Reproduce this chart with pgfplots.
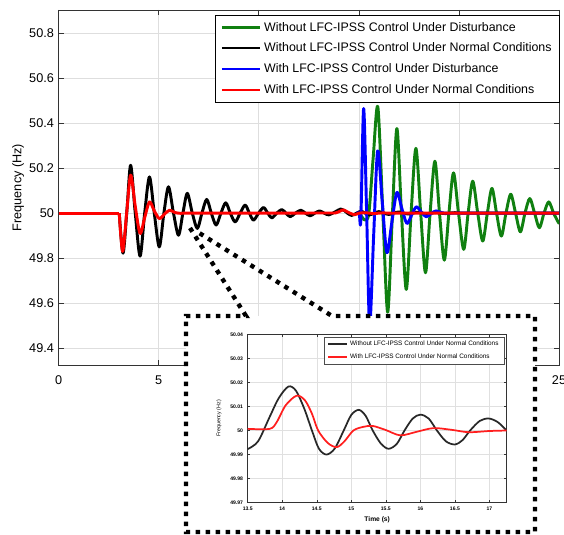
\documentclass[border=0pt]{standalone}
\usepackage{pgfplots}
\pgfplotsset{compat=1.18}
\usepackage{fontspec}
\setmainfont{Liberation Sans}
\definecolor{mgreen}{RGB}{16,128,16}
\definecolor{mblue}{RGB}{0,0,255}
\definecolor{mred}{RGB}{255,0,0}
\definecolor{igray}{RGB}{40,40,40}
\definecolor{ired}{RGB}{255,30,30}
\begin{document}
\begin{tikzpicture}
% ---------------- main axis ----------------
\begin{axis}[
  at={(43.95pt,127.5pt)}, anchor=south west,
  scale only axis, width=375.3pt, height=266.25pt,
  xmin=0, xmax=25, ymin=49.325, ymax=50.903,
  xtick={0,5,10,15,20,25},
  ytick={49.4,49.6,49.8,50,50.2,50.4,50.6,50.8},
  grid=major, major grid style={black!13, line width=0.5pt},
  tick style={black!80, line width=0.5pt}, major tick length=3.75pt,
  axis line style={black!80, line width=0.6pt},
  /pgf/number format/assume math mode=true,
  tick label style={font=\fontsize{9.5}{11}\selectfont},
  xticklabel style={yshift=-4.5pt},
  yticklabel style={/pgf/number format/.cd, fixed, precision=1},
  ylabel={Frequency (Hz)},
  ylabel style={at={(axis description cs:-0.081,0.5)}, anchor=center, font=\fontsize{9.5}{11}\selectfont},
  legend style={at={(1.002,0.986)}, anchor=north east, font=\fontsize{9.3}{11}\selectfont,
    draw=black, line width=0.6pt, row sep=3.4pt, inner xsep=4pt, inner ysep=3pt},
  legend cell align=left,
  legend image code/.code={\draw[#1, line width=1.6pt] (0pt,0pt) -- (29pt,0pt);},
  every axis plot/.append style={line width=2.2pt, line join=round},
]
\addplot[mgreen, smooth] coordinates {
(14.9,50.0) (15.1,49.99) (15.3,49.97) (15.5,50.0) (15.72,50.25) (15.95,50.472)
(16.2,50.0) (16.44,49.56) (16.67,49.98) (16.9,50.376) (17.13,50.0) (17.37,49.661)
(17.61,50.0) (17.85,50.288) (18.09,50.0) (18.33,49.735) (18.56,50.0) (18.8,50.231)
(19.03,50.0) (19.27,49.791) (19.5,50.0) (19.73,50.179) (19.98,50.0) (20.24,49.839)
(20.46,50.0) (20.69,50.142) (20.94,50.0) (21.19,49.876) (21.42,50.0) (21.65,50.11)
(21.88,50.0) (22.12,49.898) (22.35,50.0) (22.59,50.084) (22.83,50.0) (23.07,49.917)
(23.3,50.0) (23.54,50.065) (23.78,50.0) (24.02,49.935) (24.25,50.0) (24.49,50.05)
(24.73,50.0) (24.98,49.957) (25,49.958)
};
\addlegendentry{Without LFC-IPSS Control Under Disturbance}
\addplot[black, forget plot] coordinates {(0,50) (3.03,50)};
\addplot[black, smooth] coordinates {
(3.03,50) (3.22,49.822) (3.42,50.02) (3.6,50.213)
(3.83,50.0) (4.07,49.809)
(4.3,50.0) (4.54,50.161) (4.78,50.0) (5.03,49.85) (5.26,50.0) (5.49,50.117) (5.74,50.0)
(5.99,49.902) (6.21,50.0) (6.43,50.088) (6.68,50.0) (6.93,49.932) (7.16,50.0) (7.4,50.061)
(7.63,50.0) (7.87,49.947) (8.11,50.0) (8.35,50.046) (8.58,50.0) (8.82,49.961) (9.07,50.0)
(9.32,50.036) (9.53,50.0) (9.74,49.969) (9.99,50.0) (10.24,50.025) (10.45,50.0)
(10.65,49.979) (10.9,50.0) (11.15,50.016) (11.36,50.0) (11.57,49.984) (11.83,50.0)
(12.1,50.013) (12.33,50.0) (12.57,49.988) (12.8,50.0) (13.04,50.01) (13.27,50.0)
(13.5,49.9923) (13.82,50.0058) (14.09,50.0183) (14.26,50.0127) (14.43,50.0) (14.64,49.990)
(14.89,50.0) (15.11,50.0086) (15.31,50.0) (15.54,49.9924) (15.77,50.0) (16.0,50.0066)
(16.24,50.0) (16.5,49.9942) (16.72,50.0) (16.99,50.005) (17.25,50.0) (17.47,49.996)
(17.7,50.0) (17.93,50.004) (18.17,50.0) (18.4,49.997) (18.63,50.0) (18.87,50.003)
(19.1,50.0) (19.33,49.998) (19.56,50.0) (19.8,50.002) (20.3,50.0) (22,50.0) (25,50.0)
};
\addlegendentry{Without LFC-IPSS Control Under Normal Conditions}
\addplot[mblue, smooth] coordinates {
(14.9,50.0) (15.02,50.0) (15.1,49.97) (15.24,50.465) (15.39,50.0) (15.54,49.5)
(15.74,49.9) (15.94,50.277) (16.17,50.05) (16.40,49.825) (16.65,49.96) (16.9,50.092)
(17.15,50.02) (17.4,49.954) (17.63,49.99) (17.87,50.028) (18.12,50.005) (18.37,49.984)
(18.6,49.997) (18.85,50.01) (19.3,50.0) (20.5,50.0) (25,50.0)
};
\addlegendentry{With LFC-IPSS Control Under Disturbance}
\addplot[mred, forget plot] coordinates {(0,50) (3.03,50)};
\addplot[mred, smooth] coordinates {
(3.03,50) (3.2,49.83) (3.4,50.0) (3.6,50.169)
(3.83,50.03) (4.07,49.91)
(4.3,49.98) (4.54,50.05) (4.78,50.01) (5.03,49.976) (5.28,49.995) (5.54,50.013)
(5.8,50.003) (6.1,49.999) (6.5,50.0) (10,50.0) (13.5,50.0007) (13.82,50.0007) (14.0,50.006) (14.21,50.0145)
(14.4,50.007) (14.55,50.0) (14.79,49.9931) (15.01,50.0) (15.32,50.0019) (15.54,50.0)
(15.76,49.9979) (16.0,50.0) (16.26,50.001) (16.63,49.9996) (17.25,50.0) (21,50.0) (25,50.0)
};
\addlegendentry{With LFC-IPSS Control Under Normal Conditions}
\end{axis}
% white cover of inset
\fill[white] (139.5pt,2.25pt) rectangle (401.25pt,164.25pt);
% ---------------- inset axis ----------------
\begin{axis}[
  at={(185.78pt,24.23pt)}, anchor=south west,
  scale only axis, width=194.25pt, height=126.3pt,
  xmin=13.5, xmax=17.25, ymin=49.97, ymax=50.04,
  xtick={13.5,14,14.5,15,15.5,16,16.5,17},
  ytick={49.97,49.98,49.99,50,50.01,50.02,50.03,50.04},
  grid=major, major grid style={black!12, line width=0.4pt},
  tick style={black!80, line width=0.4pt}, major tick length=2pt,
  axis line style={black!80, line width=0.5pt},
  /pgf/number format/assume math mode=true,
  tick label style={font=\fontsize{3.8}{4.5}\selectfont\bfseries},
  yticklabel style={/pgf/number format/.cd, fixed, precision=2},
  xticklabel style={/pgf/number format/.cd, fixed, precision=1},
  xlabel={Time (s)}, ylabel={Frequency (Hz)},
  xlabel style={at={(axis description cs:0.5,-0.103)}, anchor=center, font=\fontsize{5}{6}\selectfont\bfseries},
  ylabel style={at={(axis description cs:-0.111,0.5)}, anchor=center, font=\fontsize{4}{5}\selectfont},
  legend style={at={(0.99,0.986)}, anchor=north east, font=\fontsize{4.8}{5.5}\selectfont,
    draw=black!70, line width=0.4pt, row sep=0.5pt, inner xsep=2pt, inner ysep=1pt},
  legend cell align=left,
  legend image code/.code={\draw[#1, line width=1.2pt] (0pt,0pt) -- (14pt,0pt);},
  every axis plot/.append style={line width=1.3pt, smooth, line join=round},
]
\addplot[igray] coordinates {
(13.5,49.9923) (13.65,49.9955) (13.82,50.0058) (13.95,50.0135) (14.09,50.0183)
(14.2,50.0165) (14.32,50.009) (14.43,50.0) (14.53,49.9925) (14.64,49.990)
(14.76,49.9925) (14.89,50.0) (15.0,50.0065) (15.11,50.0086) (15.21,50.006)
(15.31,50.0) (15.43,49.9945) (15.54,49.9924) (15.66,49.9945) (15.77,50.0)
(15.89,50.005) (16.0,50.0066) (16.12,50.005) (16.24,50.0) (16.37,49.9955)
(16.5,49.9942) (16.61,49.996) (16.72,50.0) (16.86,50.004) (16.99,50.005)
(17.12,50.0035) (17.25,50.0)
};
\addlegendentry{Without LFC-IPSS Control Under Normal Conditions}
\addplot[ired] coordinates {
(13.5,50.0007) (13.82,50.0007) (13.92,50.0035) (14.05,50.0105) (14.21,50.0145)
(14.33,50.0125) (14.43,50.007) (14.52,50.0) (14.66,49.9948) (14.79,49.9931)
(14.9,49.9955) (15.03,50.0) (15.17,50.0015) (15.31,50.0019) (15.5,50.0002)
(15.71,49.998) (15.95,49.9995) (16.19,50.001) (16.45,50.0003) (16.7,49.9993)
(17.0,49.9998) (17.25,50.0)
};
\addlegendentry{With LFC-IPSS Control Under Normal Conditions}
\end{axis}
% dotted zoom frame
\draw[black, line width=3.3pt, dash pattern=on 3.3pt off 4.2pt, line cap=butt]
  (142.5pt,230.25pt) -- (184.5pt,164.25pt) -- (139.5pt,164.25pt) -- (139.5pt,2.25pt)
  -- (401.25pt,2.25pt) -- (401.25pt,164.25pt) -- (249pt,164.25pt) -- (147pt,228pt);
\pgfresetboundingbox
\useasboundingbox (0pt,0pt) rectangle (423pt,401.25pt);
\end{tikzpicture}
\end{document}
